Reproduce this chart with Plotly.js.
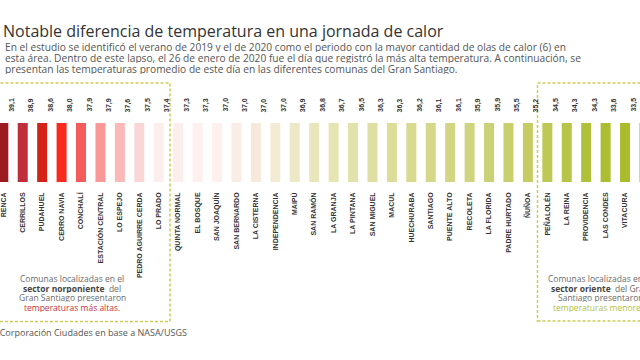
<!DOCTYPE html>
<html>
<head>
<meta charset="utf-8">
<script src="https://cdn.plot.ly/plotly-3.0.1.min.js"></script>
<style>html,body{margin:0;padding:0;background:#fff;}#chart{width:640px;height:360px;}</style>
</head>
<body>
<div id="chart"></div>
<script>
const comunas = ["RENCA","CERRILLOS","PUDAHUEL","CERRO NAVIA","CONCHALÍ","ESTACIÓN CENTRAL","LO ESPEJO","PEDRO AGUIRRE CERDA","LO PRADO","QUINTA NORMAL","EL BOSQUE","SAN JOAQUÍN","SAN BERNARDO","LA CISTERNA","INDEPENDENCIA","MAIPÚ","SAN RAMÓN","LA GRANJA","LA PINTANA","SAN MIGUEL","MACUL","HUECHURABA","SANTIAGO","PUENTE ALTO","RECOLETA","LA FLORIDA","PADRE HURTADO","ÑUÑOA","PEÑALOLÉN","LA REINA","PROVIDENCIA","LAS CONDES","VITACURA","LO BARNECHEA"];
const temperaturas = [39.1,38.9,38.6,38.0,37.9,37.9,37.6,37.5,37.4,37.3,37.3,37.0,37.0,37.0,37.0,36.9,36.8,36.7,36.5,36.3,36.3,36.2,36.1,36.1,35.9,35.9,35.5,35.2,34.5,34.3,34.3,33.6,33.5,33.4];
const colores = ["#9c1b20","#c12e3b","#d42219","#fa2a1f","#f65b5b","#fa9898","#fbb8b8","#fad6d6","#fdeeee","#fdeeee","#fdf0ef","#fdf0ef","#f9ede5","#f6e9dc","#f3ebd3","#ede8c6","#e9e6bd","#e5e4b3","#e2e2ab","#dfdfa3","#dcdd99","#d8da90","#d5d889","#d2d684","#cfd47e","#cbd176","#c8cf6c","#c4cc63","#bdc855","#b6c447","#b1c03b","#adbd31","#aabb2c","#a8b928"];

const etiquetas = temperaturas.map(v => v.toFixed(1).replace('.', ','));
const alturaUniforme = comunas.map(() => 1);

const W = 640, H = 360;
const px = x => x / W;
const py = y => 1 - y / H;

const barTrace = {
  type: 'bar',
  x: comunas,
  y: alturaUniforme,
  width: 0.515,
  marker: {color: colores, line: {width: 0}},
  hoverinfo: 'skip'
};

const valueAnns = comunas.map((c, i) => ({
  x: c, y: 1, xref: 'x', yref: 'y',
  text: etiquetas[i], textangle: -90, showarrow: false,
  xanchor: 'center', yanchor: 'middle', xshift: 8.5, yshift: 18,
  font: {family: 'Liberation Sans, Arial', size: 7, color: '#333', weight: 'bold'}
}));

const textFont = {family: 'Open Sans', size: 10.2, color: '#555'};
const srcFont = {family: 'Open Sans', size: 9, color: '#555'};
const boxFont = {family: 'Open Sans', size: 8.5, color: '#6b6b6b'};

const subtitulo = [
  "En el estudio se identificó el verano de 2019 y el de 2020 como el periodo con la mayor cantidad de olas de calor (6) en",
  "esta área. Dentro de este lapso, el 26 de enero de 2020 fue el día que registró la más alta temperatura. A continuación, se",
  "presentan las temperaturas promedio de este día en las diferentes comunas del Gran Santiago."
];
const subY = [46, 57, 68];

const boxLeft = [
  "Comunas localizadas en el",
  "<b style='color:#444'>sector norponiente</b>  del",
  "Gran Santiago presentaron",
  "<span style='color:#c8323c'>temperaturas más altas.</span>"
];
const boxRight = [
  "Comunas localizadas en el",
  "<b style='color:#444'>sector oriente</b>  del Gran",
  "Santiago presentaron",
  "<span style='color:#b3bf3c'>temperaturas menores.</span>"
];
const boxY = [278.5, 288, 297.5, 307];

const anns = valueAnns.concat(
  subtitulo.map((t, i) => ({
    x: px(3), y: py(subY[i]), xref: 'paper', yref: 'paper', text: t, showarrow: false,
    xanchor: 'left', yanchor: 'middle', align: 'left', font: textFont, height: 11
  })),
  boxLeft.map((t, i) => ({
    x: px(72), y: py(boxY[i]), xref: 'paper', yref: 'paper', text: t, showarrow: false,
    xanchor: 'center', yanchor: 'middle', font: boxFont, height: 9
  })),
  boxRight.map((t, i) => ({
    x: px(600), y: py(boxY[i]), xref: 'paper', yref: 'paper', text: t, showarrow: false,
    xanchor: 'center', yanchor: 'middle', font: boxFont, height: 9
  })),
  [{
    x: px(189), y: py(332.5), xref: 'paper', yref: 'paper',
    text: "Fuente: Corporación Ciudades en base a NASA/USGS", showarrow: false,
    xanchor: 'right', yanchor: 'middle', font: srcFont
  }]
);

const dashLine = {color: '#cccc55', width: 1.5, dash: '3px,2px'};
const shapes = [
  {type: 'rect', xref: 'paper', yref: 'paper', x0: px(-20), x1: px(170), y0: py(321.5), y1: py(83), line: dashLine, fillcolor: 'rgba(0,0,0,0)', layer: 'below'},
  {type: 'rect', xref: 'paper', yref: 'paper', x0: px(537.5), x1: px(680), y0: py(321), y1: py(83), line: dashLine, fillcolor: 'rgba(0,0,0,0)', layer: 'below'}
];

const layout = {
  width: W, height: H,
  margin: {l: 0, r: 0, t: 0, b: 0},
  paper_bgcolor: '#fff', plot_bgcolor: '#fff',
  showlegend: false,
  title: {
    text: "Notable diferencia de temperatura en una jornada de calor",
    x: px(3), xanchor: 'left', xref: 'container',
    y: py(31), yanchor: 'middle', yref: 'container',
    font: {family: 'Open Sans', size: 16, color: '#333', weight: 500}
  },
  xaxis: {
    type: 'category', categoryorder: 'array', categoryarray: comunas,
    range: [-0.17, 32.77], tickangle: -90, ticks: '', showgrid: false, zeroline: false, showline: false,
    ticklabelstandoff: 8,
    tickfont: {family: 'Liberation Sans, Arial', size: 7, color: '#333', weight: 'bold'},
    automargin: false, fixedrange: true
  },
  yaxis: {
    domain: [1 - 182 / H, 1 - 123 / H], range: [0, 1], visible: false, fixedrange: true
  },
  annotations: anns,
  shapes: shapes
};

Plotly.newPlot('chart', [barTrace], layout, {displayModeBar: false, staticPlot: true});
</script>
</body>
</html>
